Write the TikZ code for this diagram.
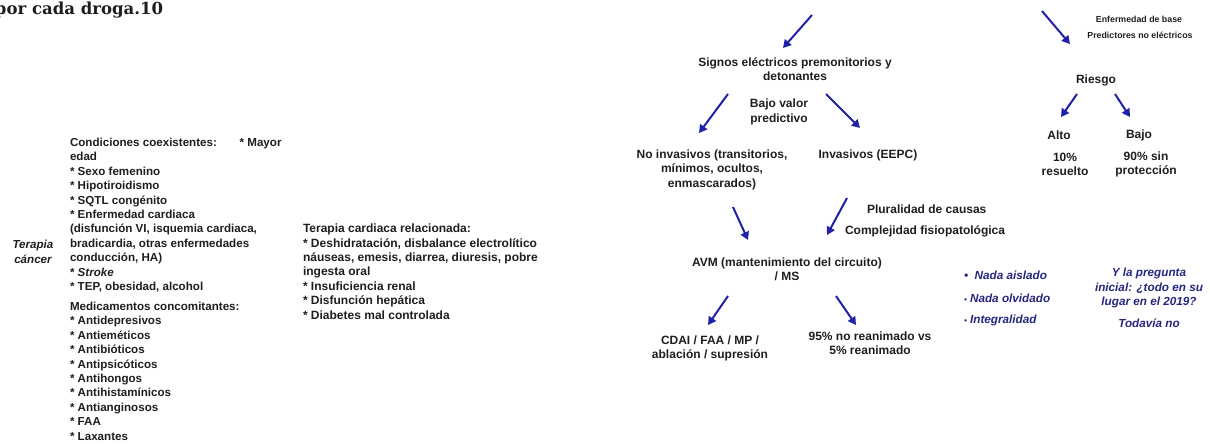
\documentclass[tikz,border=0pt]{standalone}
\usepackage{fontspec}
\setmainfont{Liberation Sans}
\newfontfamily\titlefont{DejaVu Serif}
\usetikzlibrary{arrows.meta}
\definecolor{arrowblue}{HTML}{2020A8}
\definecolor{navy}{HTML}{26267F}
\definecolor{txt}{HTML}{1E1E1E}
\begin{document}
\begin{tikzpicture}[x=0.75pt,y=-0.75pt,
  every node/.style={inner sep=0pt, outer sep=0pt, text=txt},
  lbl/.style={font=\bfseries\fontsize{9}{10.8}\selectfont, align=center},
  blk/.style={font=\bfseries\fontsize{8.7}{10.8}\selectfont, align=left, anchor=north west},
  small/.style={font=\bfseries\fontsize{6.6}{8}\selectfont},
  navytxt/.style={text=navy, font=\bfseries\itshape\fontsize{8.8}{11}\selectfont, align=center},
  arr/.style={draw=arrowblue, line width=1.5pt, -{Triangle[length=6pt,width=6.5pt]}}
]
\useasboundingbox (0,0) rectangle (1210,443);

% title fragment
\node[anchor=base west, font=\titlefont\bfseries\fontsize{12.4}{14}\selectfont] (title) at (-5,14) {por cada droga.10};

% left column
\node[lbl, font=\bfseries\itshape\fontsize{8.7}{10.8}\selectfont] (terapia) at (33,252) {Terapia\\cáncer};
\node[blk] (cond) at (70,138) {Condiciones coexistentes:\hspace{17pt}* Mayor\\
edad\\
* Sexo femenino\\
* Hipotiroidismo\\
* SQTL congénito\\
* Enfermedad cardiaca\\
(disfunción VI, isquemia cardiaca,\\
bradicardia, otras enfermedades\\
conducción, HA)\\
* \textit{Stroke}\\
* TEP, obesidad, alcohol};
\node[blk] (medic) at (70,302) {Medicamentos concomitantes:\\
* Antidepresivos\\
* Antieméticos\\
* Antibióticos\\
* Antipsicóticos\\
* Antihongos\\
* Antihistamínicos\\
* Antianginosos\\
* FAA\\
* Laxantes};
\node[blk, font=\bfseries\fontsize{9}{10.8}\selectfont] (tercard) at (303,224) {Terapia cardiaca relacionada:\\
* Deshidratación, disbalance electrolítico\\
náuseas, emesis, diarrea, diuresis, pobre\\
ingesta oral\\
* Insuficiencia renal\\
* Disfunción hepática\\
* Diabetes mal controlada};

% flow chart
\node[lbl] (sig) at (795,69) {Signos eléctricos premonitorios y\\detonantes};
\node[lbl] (bajov) at (779,112) {Bajo valor\\predictivo};
\node[lbl] (noinv) at (712,169.5) {No invasivos (transitorios,\\mínimos, ocultos,\\enmascarados)};
\node[lbl] (inv) at (868,155) {Invasivos (EEPC)};
\node[lbl, anchor=west] (plur) at (867,209) {Pluralidad de causas};
\node[lbl, anchor=west] (comp) at (845,231) {Complejidad fisiopatológica};
\node[lbl] (avm) at (787,269.5) {AVM (mantenimiento del circuito)\\/ MS};
\node[lbl] (cdai) at (710,348.5) {CDAI / FAA / MP /\\ablación / supresión};
\node[lbl] (pct) at (870,343.5) {95\% no reanimado vs\\5\% reanimado};

\node[small] (enf) at (1139,19) {Enfermedad de base};
\node[small] (pred) at (1140,35) {Predictores no eléctricos};
\node[lbl] (riesgo) at (1096,80) {Riesgo};
\node[lbl] (alto) at (1059,135) {Alto};
\node[lbl] (bajo) at (1139,135) {Bajo};
\node[lbl] (diez) at (1065,164.5) {10\%\\resuelto};
\node[lbl] (noventa) at (1146,164.5) {90\% sin\\protección};

% navy texts
\node[navytxt, anchor=west] (b1) at (964,275) {\textbullet\ \ Nada aislado};
\node[navytxt, anchor=west] (b2) at (964,298) {{\fontsize{6}{6}\selectfont\textbullet}\ Nada olvidado};
\node[navytxt, anchor=west] (b3) at (964,320) {{\fontsize{6}{6}\selectfont\textbullet}\ Integralidad};
\node[navytxt] (preg) at (1149,288) {Y la pregunta\\inicial: ¿todo en su\\lugar en el 2019?};
\node[navytxt] (todavia) at (1149,323) {Todavía no};

% arrow end points
\coordinate (a1s) at (812,15);  \coordinate (a1e) at (783,48);
\coordinate (a2s) at (728,94);  \coordinate (a2e) at (699,133);
\coordinate (a3s) at (826,94);  \coordinate (a3e) at (860,128);
\coordinate (a4s) at (1042,11); \coordinate (a4e) at (1070,44);
\coordinate (a5s) at (1077,94); \coordinate (a5e) at (1061,117);
\coordinate (a6s) at (1115,94); \coordinate (a6e) at (1130,117);
\coordinate (a7s) at (733,207); \coordinate (a7e) at (748,240);
\coordinate (a8s) at (847,198); \coordinate (a8e) at (827,235);
\coordinate (a9s) at (728,296); \coordinate (a9e) at (708,325);
\coordinate (a10s) at (836,296); \coordinate (a10e) at (856,325);

\foreach \i in {1,...,10} {\draw[arr] (a\i s) -- (a\i e);}
\end{tikzpicture}
\end{document}
